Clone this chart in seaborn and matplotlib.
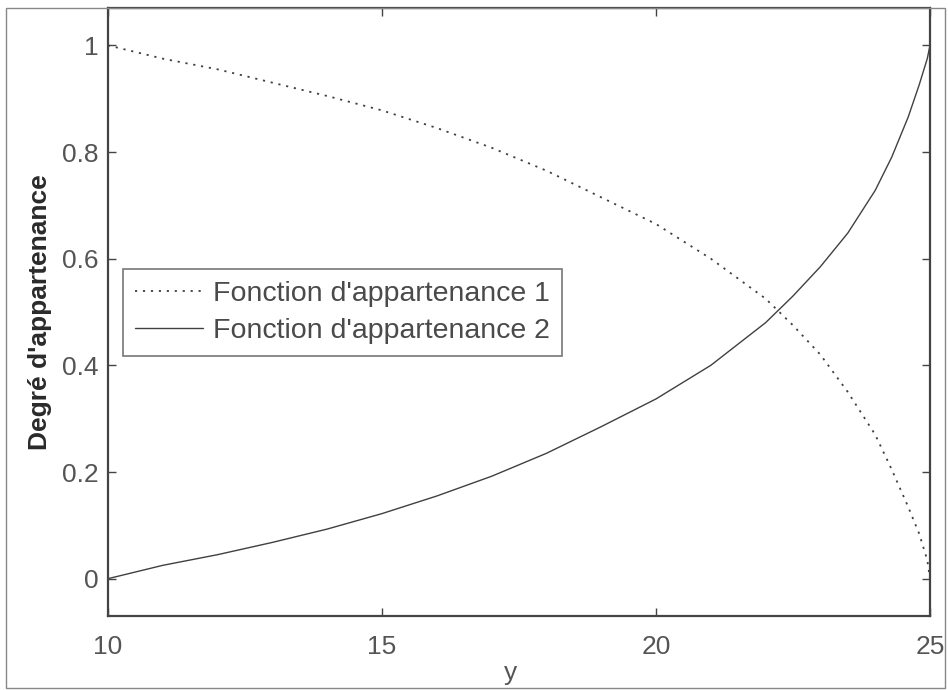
import matplotlib
matplotlib.use("Agg")
import matplotlib.pyplot as plt
from matplotlib.patches import Rectangle
import seaborn as sns
import pandas as pd

# Membership function 1 (decreasing)
y1_pts = [10, 11, 12, 13, 14, 15, 16, 17, 18, 19, 20, 21, 22, 22.5, 23, 23.5,
          24, 24.3, 24.6, 24.8, 24.95, 25]
mu1 = [1.00, 0.975, 0.955, 0.93, 0.905, 0.878, 0.845, 0.808, 0.765, 0.715, 0.665,
       0.60, 0.525, 0.475, 0.42, 0.35, 0.27, 0.205, 0.135, 0.085, 0.035, 0.0]

# Membership function 2 (increasing)
y2_pts = [10, 11, 12, 13, 14, 15, 16, 17, 18, 19, 20, 21, 22, 22.5, 23, 23.5,
          24, 24.3, 24.6, 24.8, 24.95, 25]
mu2 = [0.0, 0.025, 0.045, 0.068, 0.093, 0.122, 0.155, 0.192, 0.235, 0.285, 0.337,
       0.40, 0.48, 0.53, 0.585, 0.648, 0.728, 0.79, 0.865, 0.925, 0.975, 1.0]

labels = ["Fonction d'appartenance 1", "Fonction d'appartenance 2"]
xticks = [10, 15, 20, 25]
yticks = [0, 0.2, 0.4, 0.6, 0.8, 1]
ytick_labels = ["0", "0.2", "0.4", "0.6", "0.8", "1"]

sns.set_theme(style="white")
plt.rcParams["font.family"] = ["Liberation Sans", "DejaVu Sans"]

W, H = 948, 690
fig = plt.figure(figsize=(W / 100, H / 100), dpi=100)
ax = fig.add_axes([108 / W, 1 - 616 / H, (930 - 108) / W, (616 - 8) / H])

df1 = pd.DataFrame({"y": y1_pts, "mu": mu1})
df2 = pd.DataFrame({"y": y2_pts, "mu": mu2})

line_color = "#404040"
sns.lineplot(data=df1, x="y", y="mu", ax=ax, color=line_color, lw=1.3,
             linestyle=(0, (1.2, 3.2)), label=labels[0])
sns.lineplot(data=df2, x="y", y="mu", ax=ax, color=line_color, lw=1.0,
             linestyle="-", label=labels[1])

ax.set_xlim(10, 25)
ax.set_ylim(-0.07, 1.07)
ax.set_xticks(xticks)
ax.set_xticklabels([str(t) for t in xticks])
ax.set_yticks(yticks)
ax.set_yticklabels(ytick_labels)

fs = 19
tick_color = "#555555"
ax.tick_params(direction="in", length=6, width=1.0, color="#444444",
               top=True, right=True, bottom=True, left=True,
               labelsize=fs, labelcolor=tick_color)
ax.tick_params(axis="x", pad=14)
ax.tick_params(axis="y", pad=7)
for sp in ax.spines.values():
    sp.set_color("#444444")
    sp.set_linewidth(1.6)

ax.set_xlabel("y", fontsize=fs, color=tick_color)
ax.xaxis.set_label_coords(0.49, -(673 - 616) / 608)
ax.xaxis.label.set_va("center")
ax.set_ylabel("Degré d'appartenance", fontsize=fs, color="#2a2a2a",
              fontweight="bold")
ax.yaxis.set_label_coords(-(108 - 40) / 822, 0.5)
ax.yaxis.label.set_va("center")

leg = ax.legend(loc="upper left", bbox_to_anchor=(0.018, 0.571),
                borderaxespad=0, frameon=True, fancybox=False,
                fontsize=20.5, handlelength=2.4, handletextpad=0.35,
                borderpad=0.42, labelspacing=0.38)
leg.get_frame().set_edgecolor("#555555")
leg.get_frame().set_linewidth(1.2)
for t in leg.get_texts():
    t.set_color("#4a4a4a")

# thin frame around the whole figure
fig.patches.append(Rectangle((6 / W, 2 / H), (945 - 6) / W, (682 - 2) / H,
                             transform=fig.transFigure, fill=False,
                             edgecolor="#888888", linewidth=1.0))

fig.savefig("out.png", dpi=100)
